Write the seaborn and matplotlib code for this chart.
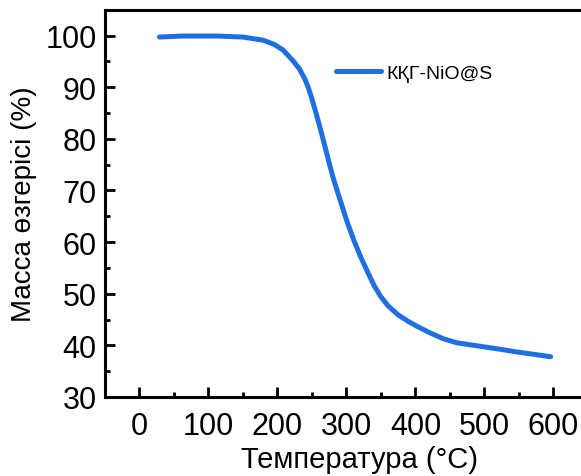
import matplotlib
matplotlib.use("Agg")
import matplotlib.pyplot as plt
import seaborn as sns
import pandas as pd
from matplotlib.ticker import MultipleLocator

temperature = [29, 62, 112, 150, 179, 195, 208, 222, 232, 240, 245, 250, 255, 260, 265, 270,
               275, 280, 285, 290, 300, 310, 320, 330, 340, 350, 360, 375, 390, 405, 420,
               440, 460, 480, 500, 525, 548, 575, 596]
mass = [99.7, 99.9, 99.9, 99.7, 99.1, 98.3, 97.2, 95.2, 93.5, 91.5, 89.8, 87.7, 85.4, 83.0, 80.5, 77.9,
        75.3, 72.8, 70.6, 68.5, 64.3, 60.6, 57.3, 54.4, 51.6, 49.4, 47.7, 45.9, 44.6, 43.5, 42.5,
        41.3, 40.5, 40.1, 39.7, 39.2, 38.7, 38.2, 37.8]
series_label = "КҚГ-NiO@S"
x_label = "Температура (°C)"
y_label = "Масса өзгерісі (%)"

df = pd.DataFrame({"T": temperature, "m": mass})

sns.set_style("white")
plt.rcParams['font.family'] = ['Liberation Sans', 'DejaVu Sans']
plt.rcParams['text.color'] = 'black'
plt.rcParams['axes.labelcolor'] = 'black'
plt.rcParams['xtick.color'] = 'black'
plt.rcParams['ytick.color'] = 'black'

fig = plt.figure(figsize=(5.81, 4.77), dpi=100)
ax = fig.add_axes([105/581, 1 - 398/477, 1 - 105/581, (398 - 10.7)/477])

sns.lineplot(data=df, x="T", y="m", ax=ax, color="#1f6fe0", linewidth=3.6,
             label=series_label, sort=False, solid_capstyle="round", solid_joinstyle="round")

ax.set_xlim(-50, 640)
ax.set_ylim(30, 105)
ax.xaxis.set_major_locator(MultipleLocator(100))
ax.xaxis.set_minor_locator(MultipleLocator(50))
ax.yaxis.set_major_locator(MultipleLocator(10))
ax.yaxis.set_minor_locator(MultipleLocator(5))
ax.tick_params(which="major", direction="in", length=7, width=2, labelsize=22,
               top=False, right=False, bottom=True, left=True, colors="black")
ax.tick_params(which="minor", direction="in", length=3.5, width=2,
               top=False, right=False, bottom=True, left=True, colors="black")
ax.tick_params(axis="x", which="major", pad=10)
ax.tick_params(axis="y", which="major", pad=6)
for s in ["left", "bottom", "top"]:
    ax.spines[s].set_linewidth(2.2)
    ax.spines[s].set_color("black")
ax.spines["right"].set_visible(False)

ax.set_xlabel(x_label, fontsize=21, color="black")
ax.set_ylabel(y_label, fontsize=20, labelpad=6, color="black")
ax.xaxis.set_label_coords(0.534, -0.123)

leg = ax.legend(loc="upper left", bbox_to_anchor=(0.449, 0.905), frameon=False,
                fontsize=14, handlelength=2.3, handletextpad=0.3)
for t in leg.get_texts():
    t.set_color("black")

fig.savefig("out.png", dpi=100)
